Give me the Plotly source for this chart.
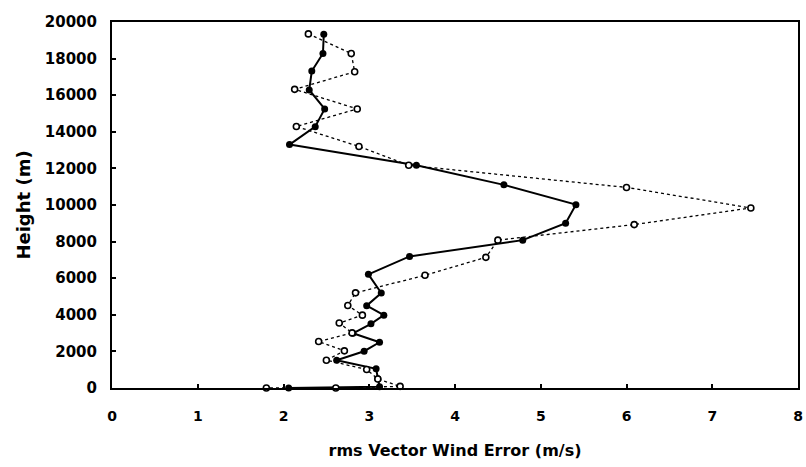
import plotly.graph_objects as go

# Filled-marker series (solid line)
solid_x = [2.47, 2.46, 2.33, 2.30, 2.48, 2.37, 2.07, 3.55, 4.57, 5.41, 5.29, 4.79, 3.47,
           2.99, 3.14, 2.97, 3.17, 3.02, 2.81, 3.12, 2.94, 2.62, 3.08, 3.10, 3.12, 2.06]
solid_y = [19330, 18280, 17320, 16290, 15250, 14280, 13300, 12170, 11100, 10020, 9000, 8080, 7190,
           6210, 5190, 4500, 3980, 3510, 2990, 2500, 2010, 1520, 1050, 500, 70, 0]

# Open-marker series (dotted line)
dot_x = [2.29, 2.79, 2.83, 2.13, 2.86, 2.15, 2.88, 3.46, 6.00, 7.45, 6.09, 4.50, 4.36, 3.65,
         2.84, 2.75, 2.92, 2.65, 2.80, 2.41, 2.71, 2.50, 2.97, 3.10, 3.36, 2.61, 1.80]
dot_y = [19350, 18280, 17280, 16320, 15250, 14290, 13200, 12170, 10960, 9840, 8930, 8080, 7140, 6160,
         5200, 4510, 3980, 3550, 3010, 2540, 2030, 1520, 1010, 490, 90, 0, 0]

x_ticks = [0, 1, 2, 3, 4, 5, 6, 7, 8]
y_ticks = [0, 2000, 4000, 6000, 8000, 10000, 12000, 14000, 16000, 18000, 20000]

fig = go.Figure()
fig.add_trace(go.Scatter(
    x=solid_x, y=solid_y, mode="lines+markers",
    line=dict(color="black", width=2),
    marker=dict(symbol="circle", size=7, color="black"),
    showlegend=False, cliponaxis=False))
fig.add_trace(go.Scatter(
    x=dot_x, y=dot_y, mode="lines+markers",
    line=dict(color="black", width=1.3, dash="dot"),
    marker=dict(symbol="circle", size=6, color="white", line=dict(color="black", width=1.6)),
    showlegend=False, cliponaxis=False))

fig.update_layout(
    width=806, height=467,
    margin=dict(l=112, r=3, t=22, b=79),
    paper_bgcolor="white", plot_bgcolor="white",
    font=dict(family="DejaVu Sans", color="black"),
    xaxis=dict(range=[0, 8], tickvals=x_ticks, ticktext=[f"<b>{v}</b>" for v in x_ticks],
               ticks="inside", ticklen=4, tickwidth=1.5, tickcolor="black",
               showline=True, linecolor="black", linewidth=2, mirror=True,
               showgrid=False, zeroline=False,
               tickfont=dict(family="DejaVu Sans", size=14, color="black"), ticklabelstandoff=14,
               title=dict(text="<b>rms Vector Wind Error (m/s)</b>",
                          font=dict(family="DejaVu Sans", size=16), standoff=22)),
    yaxis=dict(range=[0, 20000], tickvals=y_ticks, ticktext=[f"<b>{v}</b>" for v in y_ticks],
               ticks="inside", ticklen=4, tickwidth=1.5, tickcolor="black",
               showline=True, linecolor="black", linewidth=2, mirror=True,
               showgrid=False, zeroline=False,
               tickfont=dict(family="DejaVu Sans", size=15, color="black"), ticklabelstandoff=10,
               title=dict(text="<b>Height (m)</b>",
                          font=dict(family="DejaVu Sans", size=18), standoff=10)),
)

fig.write_html("out.html")
